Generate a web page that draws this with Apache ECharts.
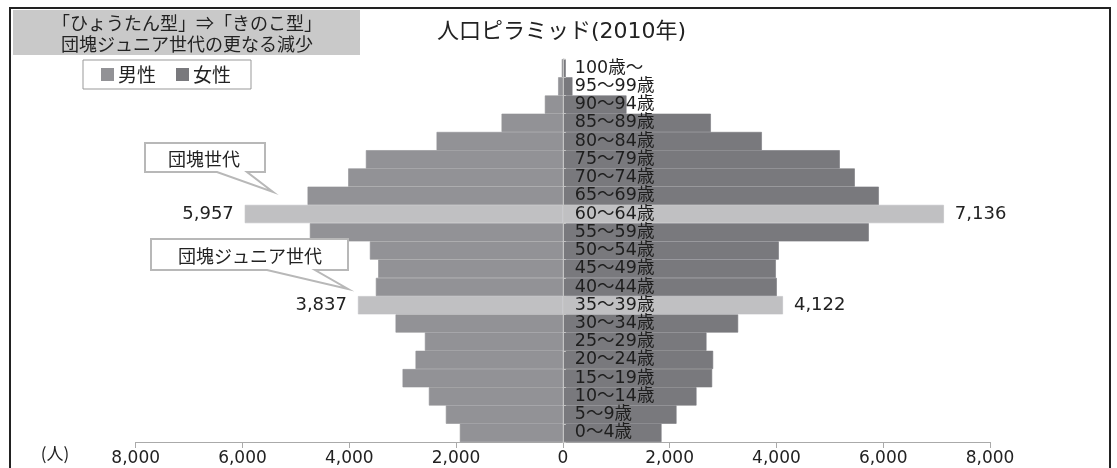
<!DOCTYPE html>
<html>
<head>
<meta charset="utf-8">
<script src="https://cdn.jsdelivr.net/npm/echarts@6/dist/echarts.min.js"></script>
<style>
  html, body { margin: 0; padding: 0; background: #fff; }
  #chart { width: 1117px; height: 468px; }
</style>
</head>
<body>
<div id="chart"></div>
<script>
// ---- Data (bottom to top) ----
var ageGroups = ['0〜4歳','5〜9歳','10〜14歳','15〜19歳','20〜24歳','25〜29歳','30〜34歳','35〜39歳','40〜44歳','45〜49歳','50〜54歳','55〜59歳','60〜64歳','65〜69歳','70〜74歳','75〜79歳','80〜84歳','85〜89歳','90〜94歳','95〜99歳','100歳〜'];
var maleValues   = [1929, 2191, 2509, 3002, 2759, 2584, 3133, 3837, 3502, 3458, 3614, 4738, 5957, 4781, 4020, 3689, 2365, 1148, 337, 88, 20];
var femaleValues = [1848, 2129, 2503, 2796, 2815, 2690, 3283, 4122, 4007, 3989, 4045, 5730, 7136, 5918, 5468, 5187, 3727, 2772, 1192, 180, 55];
var highlightGroups = ['35〜39歳', '60〜64歳'];
var xTicks = [-8000, 8000, 2000]; // min, max, interval
var legendNames = ['男性', '女性'];
var titleText = '人口ピラミッド(2010年)';
var noteLines = ['「ひょうたん型」⇒「きのこ型」', '団塊ジュニア世代の更なる減少'];
var calloutTexts = ['団塊世代', '団塊ジュニア世代'];
var unitText = '(人)';

var MALE = '#929296', FEMALE = '#79797d', LIGHT = '#c0c0c2';
var FONT = '"Noto Sans CJK JP", "Noto Sans", sans-serif';
var NUMFONT = '"DejaVu Sans", "Noto Sans CJK JP", sans-serif';

var GRID_LEFT = 135.7, GRID_RIGHT = 127;
var PLOT_W = 1117 - GRID_LEFT - GRID_RIGHT;
var zeroOffset = PLOT_W * (0 - xTicks[0]) / (xTicks[1] - xTicks[0]);

function fmt(v) {
  return String(Math.abs(v)).replace(/\B(?=(\d{3})+(?!\d))/g, ',');
}
function buildData(values, sign, side) {
  return values.map(function (v, i) {
    var hl = highlightGroups.indexOf(ageGroups[i]) >= 0;
    var d = { value: sign * v };
    if (hl) {
      d.itemStyle = { color: LIGHT, borderColor: LIGHT };
      d.label = { show: true, position: side, distance: 11, formatter: function (p) { return fmt(p.value); },
                  fontSize: 18, color: '#222', fontFamily: NUMFONT };
    }
    return d;
  });
}

var chart = echarts.init(document.getElementById('chart'));
chart.setOption({
  animation: false,
  textStyle: { fontFamily: FONT },
  title: {
    text: titleText, left: 432, top: 16,
    textStyle: { fontSize: 22, fontWeight: 'normal', color: '#222', fontFamily: NUMFONT }
  },
  legend: {
    data: legendNames, left: 83, top: 60, orient: 'horizontal',
    padding: [5, 20, 5, 18], itemGap: 20, itemWidth: 11, itemHeight: 11, icon: 'rect',
    backgroundColor: '#fff', borderColor: '#999', borderWidth: 1,
    textStyle: { fontSize: 19, color: '#222', fontFamily: FONT }
  },
  grid: { left: GRID_LEFT, right: GRID_RIGHT, top: 59, bottom: 26 },
  xAxis: {
    type: 'value', min: xTicks[0], max: xTicks[1], interval: xTicks[2],
    axisLine: { show: true, lineStyle: { color: '#aaa' } },
    axisTick: { show: true, length: 6, lineStyle: { color: '#aaa' } },
    splitLine: { show: false },
    axisLabel: { formatter: function (v) { return fmt(v); }, fontSize: 17, color: '#222', margin: 8, fontFamily: NUMFONT }
  },
  yAxis: {
    type: 'category', data: ageGroups, z: 10, position: 'left', offset: -zeroOffset,
    axisLine: { show: true, onZero: false, lineStyle: { color: '#c4c4c4' } },
    axisTick: { show: true, inside: true, length: 3, lineStyle: { color: '#c4c4c4' } },
    axisLabel: { inside: true, interval: 0, margin: 12, fontSize: 17.5, color: '#1e1e1e', fontFamily: NUMFONT }
  },
  series: [
    { name: legendNames[0], type: 'bar', barCategoryGap: '0%', barGap: '-100%',
      itemStyle: { color: MALE, borderColor: MALE, borderWidth: 0.6 }, data: buildData(maleValues, -1, 'left') },
    { name: legendNames[1], type: 'bar', barCategoryGap: '0%', barGap: '-100%',
      itemStyle: { color: FEMALE, borderColor: FEMALE, borderWidth: 0.6 }, data: buildData(femaleValues, 1, 'right') }
  ],
  graphic: [
    { type: 'rect', z: -10, shape: { x: 10, y: 8, width: 1100, height: 480 },
      style: { fill: 'none', stroke: '#222', lineWidth: 2 } },
    { type: 'rect', z: 5, shape: { x: 13, y: 10, width: 347, height: 45 }, style: { fill: '#c9c9c9' } },
    { type: 'text', z: 6, x: 187, y: 23, style: { text: noteLines[0], fontSize: 18, fill: '#222', textAlign: 'center', textVerticalAlign: 'middle', fontFamily: FONT } },
    { type: 'text', z: 6, x: 187, y: 44, style: { text: noteLines[1], fontSize: 18, fill: '#222', textAlign: 'center', textVerticalAlign: 'middle', fontFamily: FONT } },
    { type: 'polygon', z: 20, shape: { points: [[145,143],[265,143],[265,172],[247,172],[273,192],[217,172],[145,172]] },
      style: { fill: '#fff', stroke: '#b8b8b8', lineWidth: 2 } },
    { type: 'text', z: 21, x: 204, y: 159, style: { text: calloutTexts[0], fontSize: 18, fill: '#222', textAlign: 'center', textVerticalAlign: 'middle', fontFamily: FONT } },
    { type: 'polygon', z: 20, shape: { points: [[151,239],[348,239],[348,270],[315,270],[348,289],[267,270],[151,270]] },
      style: { fill: '#fff', stroke: '#b8b8b8', lineWidth: 2 } },
    { type: 'text', z: 21, x: 250, y: 256, style: { text: calloutTexts[1], fontSize: 18, fill: '#222', textAlign: 'center', textVerticalAlign: 'middle', fontFamily: FONT } },
    { type: 'text', z: 21, x: 55, y: 454, style: { text: unitText, fontSize: 17, fill: '#222', textAlign: 'center', textVerticalAlign: 'middle', fontFamily: FONT } }
  ]
});
</script>
</body>
</html>
